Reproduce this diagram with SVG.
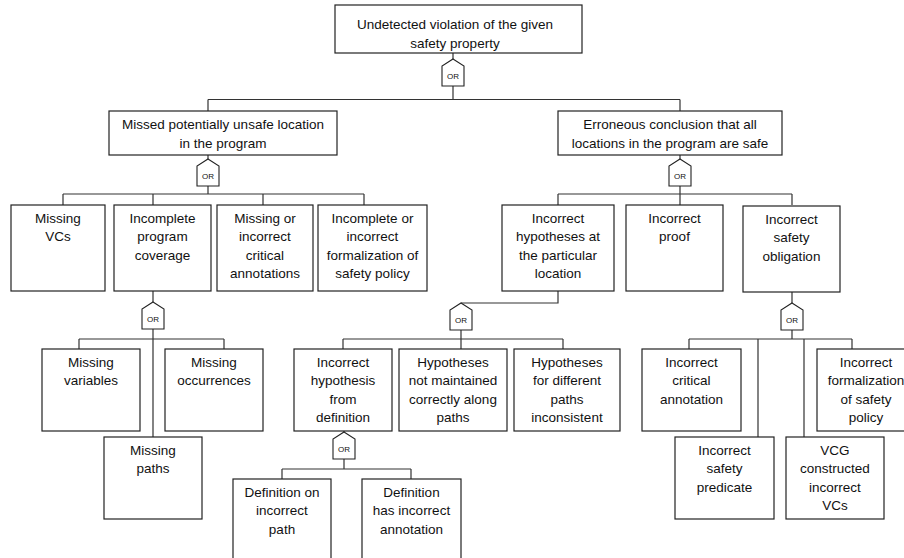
<svg xmlns="http://www.w3.org/2000/svg" xmlns:xlink="http://www.w3.org/1999/xlink" width="904" height="558" viewBox="0 0 904 558">
<style>
.box{fill:#fff;stroke:#222;stroke-width:1.2}
.t{font-family:"Liberation Sans",Arial,sans-serif;font-size:13.5px;fill:#111;text-anchor:middle}
.g{fill:#fff;stroke:#222;stroke-width:1.1}
.gt{font-family:"Liberation Sans",Arial,sans-serif;font-size:8px;fill:#111;text-anchor:middle}
.c{fill:none;stroke:#333;stroke-width:1.2}
</style>
<defs>
<polygon id="gate" points="0,0 11,7 11,27 -11,27 -11,7"/>
</defs>
<rect width="904" height="558" fill="#fff"/>
<g id="connectors" class="c">
<path d="M453,53 V59 M453,86 V99.5 M208,99.5 H680 M208,99.5 V111 M680,99.5 V111"/>
<path d="M208,155 V159 M208,186 V194 M63,194 H364 M63,194 V205 M153,194 V205 M263,194 V205 M364,194 V205"/>
<path d="M680,155 V159 M680,186 V194 M558,194 H792 M558,194 V205 M680,194 V205 M792,194 V205"/>
<path d="M153,291 V302 M153,329 V437 M79,339 H224 M79,339 V349 M224,339 V349"/>
<path d="M558,291 V303 H461 M461,330 V339 M343,339 H563 M343,339 V349 M461,339 V349 M563,339 V349"/>
<path d="M344,431 V432 M344,459 V469 M282,469 H411 M282,469 V479 M411,469 V479"/>
<path d="M792,292 V303 M792,330 V339 M689,339 H852 M689,339 V349 M852,339 V349 M758,339 V437 M804,339 V437"/>
</g>
<g id="gate0"><use xlink:href="#gate" class="g" transform="translate(453,59)"/><text class="gt" x="453" y="79">OR</text></g>
<g id="gate1"><use xlink:href="#gate" class="g" transform="translate(208,159)"/><text class="gt" x="208" y="179">OR</text></g>
<g id="gate2"><use xlink:href="#gate" class="g" transform="translate(680,159)"/><text class="gt" x="680" y="179">OR</text></g>
<g id="gate3"><use xlink:href="#gate" class="g" transform="translate(153,302)"/><text class="gt" x="153" y="322">OR</text></g>
<g id="gate4"><use xlink:href="#gate" class="g" transform="translate(461,303)"/><text class="gt" x="461" y="323">OR</text></g>
<g id="gate5"><use xlink:href="#gate" class="g" transform="translate(344,432)"/><text class="gt" x="344" y="452">OR</text></g>
<g id="gate6"><use xlink:href="#gate" class="g" transform="translate(792,303)"/><text class="gt" x="792" y="323">OR</text></g>

<g id="n-top"><rect class="box" x="335" y="5" width="247" height="48"/><text class="t"><tspan x="455" y="29">Undetected violation of the given</tspan><tspan x="455" y="47.5">safety property</tspan></text></g>
<g id="n-missed"><rect class="box" x="109" y="111" width="228" height="44"/><text class="t"><tspan x="223" y="129">Missed potentially unsafe location</tspan><tspan x="223" y="147.5">in the program</tspan></text></g>
<g id="n-erroneous"><rect class="box" x="558" y="111" width="224" height="44"/><text class="t"><tspan x="670" y="129">Erroneous conclusion that all</tspan><tspan x="670" y="147.5">locations in the program are safe</tspan></text></g>

<g id="n-missingvcs"><rect class="box" x="11" y="205" width="94" height="86"/><text class="t"><tspan x="58" y="222.5">Missing</tspan><tspan x="58" y="241">VCs</tspan></text></g>
<g id="n-incompleteprog"><rect class="box" x="114" y="205" width="97" height="86"/><text class="t"><tspan x="162.5" y="222.5">Incomplete</tspan><tspan x="162.5" y="241">program</tspan><tspan x="162.5" y="259.5">coverage</tspan></text></g>
<g id="n-missingcrit"><rect class="box" x="217" y="205" width="96" height="86"/><text class="t"><tspan x="265" y="222.5">Missing or</tspan><tspan x="265" y="241">incorrect</tspan><tspan x="265" y="259.5">critical</tspan><tspan x="265" y="278">annotations</tspan></text></g>
<g id="n-incompleteform"><rect class="box" x="318" y="205" width="109" height="86"/><text class="t"><tspan x="372.5" y="222.5">Incomplete or</tspan><tspan x="372.5" y="241">incorrect</tspan><tspan x="372.5" y="259.5">formalization of</tspan><tspan x="372.5" y="278">safety policy</tspan></text></g>

<g id="n-incorrecthyp"><rect class="box" x="502" y="205" width="112" height="86"/><text class="t"><tspan x="558" y="222.5">Incorrect</tspan><tspan x="558" y="241">hypotheses at</tspan><tspan x="558" y="259.5">the particular</tspan><tspan x="558" y="278">location</tspan></text></g>
<g id="n-incorrectproof"><rect class="box" x="626" y="205" width="97" height="86"/><text class="t"><tspan x="674.5" y="222.5">Incorrect</tspan><tspan x="674.5" y="241">proof</tspan></text></g>
<g id="n-incorrectsafety"><rect class="box" x="743" y="206" width="97" height="86"/><text class="t"><tspan x="791.5" y="223.5">Incorrect</tspan><tspan x="791.5" y="242">safety</tspan><tspan x="791.5" y="260.5">obligation</tspan></text></g>

<g id="n-missingvars"><rect class="box" x="42" y="349" width="98" height="82"/><text class="t"><tspan x="91" y="366.5">Missing</tspan><tspan x="91" y="385">variables</tspan></text></g>
<g id="n-missingocc"><rect class="box" x="165" y="349" width="98" height="82"/><text class="t"><tspan x="214" y="366.5">Missing</tspan><tspan x="214" y="385">occurrences</tspan></text></g>
<g id="n-missingpaths"><rect class="box" x="104" y="437" width="98" height="82"/><text class="t"><tspan x="153" y="454.5">Missing</tspan><tspan x="153" y="473">paths</tspan></text></g>

<g id="n-hypdef"><rect class="box" x="294" y="349" width="98" height="82"/><text class="t"><tspan x="343" y="366.5">Incorrect</tspan><tspan x="343" y="385">hypothesis</tspan><tspan x="343" y="403.5">from</tspan><tspan x="343" y="422">definition</tspan></text></g>
<g id="n-hypmaint"><rect class="box" x="399" y="349" width="108" height="82"/><text class="t"><tspan x="453" y="366.5">Hypotheses</tspan><tspan x="453" y="385">not maintained</tspan><tspan x="453" y="403.5">correctly along</tspan><tspan x="453" y="422">paths</tspan></text></g>
<g id="n-hypdiff"><rect class="box" x="514" y="349" width="106" height="82"/><text class="t"><tspan x="567" y="366.5">Hypotheses</tspan><tspan x="567" y="385">for different</tspan><tspan x="567" y="403.5">paths</tspan><tspan x="567" y="422">inconsistent</tspan></text></g>

<g id="n-defpath"><rect class="box" x="233" y="479" width="98" height="90"/><text class="t"><tspan x="282" y="496.5">Definition on</tspan><tspan x="282" y="515">incorrect</tspan><tspan x="282" y="533.5">path</tspan></text></g>
<g id="n-defannot"><rect class="box" x="362" y="479" width="99" height="90"/><text class="t"><tspan x="411.5" y="496.5">Definition</tspan><tspan x="411.5" y="515">has incorrect</tspan><tspan x="411.5" y="533.5">annotation</tspan></text></g>

<g id="n-critannot"><rect class="box" x="642" y="349" width="99" height="82"/><text class="t"><tspan x="691.5" y="366.5">Incorrect</tspan><tspan x="691.5" y="385">critical</tspan><tspan x="691.5" y="403.5">annotation</tspan></text></g>
<g id="n-formpolicy"><rect class="box" x="817" y="349" width="98" height="82"/><text class="t"><tspan x="866" y="366.5">Incorrect</tspan><tspan x="866" y="385">formalization</tspan><tspan x="866" y="403.5">of safety</tspan><tspan x="866" y="422">policy</tspan></text></g>
<g id="n-safetypred"><rect class="box" x="675" y="437" width="99" height="82"/><text class="t"><tspan x="724.5" y="454.5">Incorrect</tspan><tspan x="724.5" y="473">safety</tspan><tspan x="724.5" y="491.5">predicate</tspan></text></g>
<g id="n-vcg"><rect class="box" x="786" y="437" width="98" height="82"/><text class="t"><tspan x="835" y="454.5">VCG</tspan><tspan x="835" y="473">constructed</tspan><tspan x="835" y="491.5">incorrect</tspan><tspan x="835" y="510">VCs</tspan></text></g>
</svg>
